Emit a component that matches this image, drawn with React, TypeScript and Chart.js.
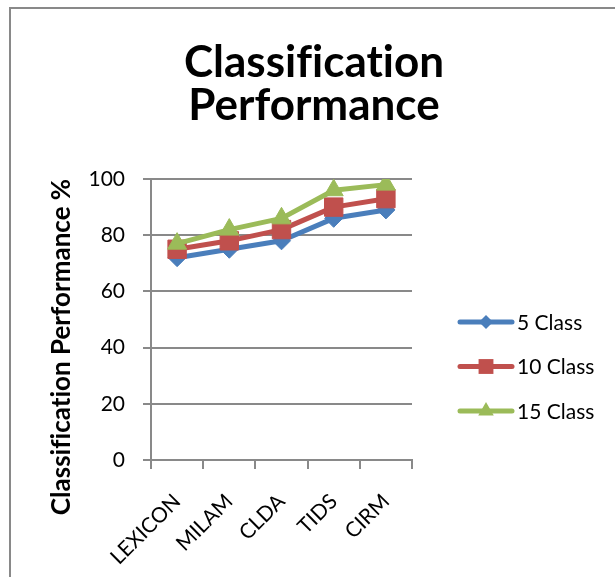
import React, { useEffect, useRef } from 'react';
import { Chart, registerables } from 'chart.js';

Chart.register(...registerables);

// Methods compared and their classification scores (%)
const methods = ['LEXICON', 'MILAM', 'CLDA', 'TIDS', 'CIRM'];
const fiveClass = [72, 75, 78, 86, 89];
const tenClass = [75, 78, 82, 90, 93];
const fifteenClass = [77, 82, 86, 96, 98];
const seriesNames = ['5 Class', '10 Class', '15 Class'];
const yTicks = [0, 20, 40, 60, 80, 100];
const chartTitle = ['Classification', 'Performance'];
const yAxisTitle = 'Classification Performance %';

const FONT = 'Lato, "Open Sans", sans-serif';
const GRID = '#898989';
const BLUE = '#4A7EBB';
const RED = '#C0504D';
const GREEN = '#9BBB59';

type Marker = 'rectRot' | 'rect' | 'triangle';

function drawMarker(ctx: CanvasRenderingContext2D, style: Marker, x: number, y: number, r: number) {
  ctx.beginPath();
  if (style === 'rectRot') {
    ctx.moveTo(x - r, y);
    ctx.lineTo(x, y - r);
    ctx.lineTo(x + r, y);
    ctx.lineTo(x, y + r);
  } else if (style === 'rect') {
    const h = r * Math.SQRT1_2;
    ctx.rect(x - h, y - h, 2 * h, 2 * h);
  } else {
    const a = Math.PI / 6;
    ctx.moveTo(x, y - r);
    ctx.lineTo(x + Math.cos(a) * r, y + Math.sin(a) * r);
    ctx.lineTo(x - Math.cos(a) * r, y + Math.sin(a) * r);
  }
  ctx.closePath();
  ctx.fill();
}

// Title, rotated y-axis title and the line+marker legend
const decorations = {
  id: 'decorations',
  afterDraw(chart: any) {
    const ctx: any = chart.ctx;
    ctx.save();
    // a tiny letter spacing keeps the f/i/t glyphs unjoined
    ctx.letterSpacing = '0.01px';
    ctx.fillStyle = '#000';
    ctx.textAlign = 'center';
    ctx.textBaseline = 'alphabetic';
    ctx.font = `bold 44px ${FONT}`;
    ctx.fillText(chartTitle[0], 314, 77);
    ctx.fillText(chartTitle[1], 314, 120);

    ctx.save();
    ctx.translate(70, 347);
    ctx.rotate(-Math.PI / 2);
    ctx.font = `bold 26px ${FONT}`;
    ctx.fillText(yAxisTitle, 0, 0);
    ctx.restore();

    const legendMarkers: Marker[] = ['rectRot', 'rect', 'triangle'];
    const legendRadius = [7, 10.5, 9];
    chart.data.datasets.forEach((ds: any, i: number) => {
      const y = 322 + i * 44.5;
      ctx.strokeStyle = ds.borderColor;
      ctx.fillStyle = ds.borderColor;
      ctx.lineWidth = 5;
      ctx.lineCap = 'round';
      ctx.beginPath();
      ctx.moveTo(460, y);
      ctx.lineTo(512, y);
      ctx.stroke();
      drawMarker(ctx, legendMarkers[i], 486, y, legendRadius[i]);
      ctx.fillStyle = '#000';
      ctx.textAlign = 'left';
      ctx.textBaseline = 'middle';
      ctx.font = `21px ${FONT}`;
      ctx.fillText(ds.label, 517, y + 1);
    });
    ctx.restore();
  },
};

export default function App() {
  const canvasRef = useRef<HTMLCanvasElement | null>(null);

  useEffect(() => {
    if (!canvasRef.current) return;
    const series = [
      { label: seriesNames[0], data: fiveClass, color: BLUE, style: 'rectRot', radius: 9, order: 3 },
      { label: seriesNames[1], data: tenClass, color: RED, style: 'rect', radius: 13, order: 2 },
      { label: seriesNames[2], data: fifteenClass, color: GREEN, style: 'triangle', radius: 11, order: 1 },
    ];
    const chart = new Chart(canvasRef.current, {
      type: 'line',
      data: {
        labels: methods,
        datasets: series.map((s) => ({
          label: s.label,
          data: s.data,
          order: s.order,
          borderColor: s.color,
          backgroundColor: s.color,
          borderWidth: 5,
          borderJoinStyle: 'round',
          pointStyle: s.style,
          pointRadius: s.radius,
          pointBorderWidth: 1,
          pointBackgroundColor: s.color,
          pointBorderColor: s.color,
        })) as any,
      },
      options: {
        responsive: false,
        animation: false,
        layout: { padding: { top: 179, right: 203, bottom: 0, left: 0 } },
        plugins: {
          legend: { display: false },
          title: { display: false },
          tooltip: { enabled: false },
        },
        scales: {
          x: {
            offset: true,
            grid: {
              offset: true,
              drawOnChartArea: false,
              drawTicks: true,
              tickLength: 9,
              color: GRID,
              lineWidth: 2,
            },
            border: { color: GRID, width: 2 },
            ticks: {
              minRotation: 45,
              maxRotation: 45,
              autoSkip: false,
              color: '#000',
              padding: 20,
              font: { family: FONT, size: 21 },
            },
            afterFit: (s: any) => {
              s.height = 117;
            },
          },
          y: {
            min: 0,
            max: 100,
            afterBuildTicks: (s: any) => {
              s.ticks = yTicks.map((v) => ({ value: v }));
            },
            grid: { color: GRID, lineWidth: 2, tickLength: 8 },
            border: { color: GRID, width: 2 },
            ticks: {
              color: '#000',
              padding: 18,
              font: { family: FONT, size: 21 },
            },
            afterFit: (s: any) => {
              s.width = 151;
            },
          },
        },
      },
      plugins: [decorations],
    });
    return () => chart.destroy();
  }, []);

  return (
    <div
      style={{
        position: 'fixed',
        left: 0,
        top: 0,
        width: 615,
        height: 577,
        overflow: 'hidden',
        background: '#fff',
      }}
    >
      <div
        style={{
          position: 'absolute',
          left: 9,
          top: 7,
          width: 700,
          height: 700,
          border: `2px solid ${GRID}`,
          boxSizing: 'border-box',
        }}
      />
      <canvas
        ref={canvasRef}
        width={615}
        height={577}
        style={{ position: 'absolute', left: 0, top: 0 }}
      />
    </div>
  );
}
